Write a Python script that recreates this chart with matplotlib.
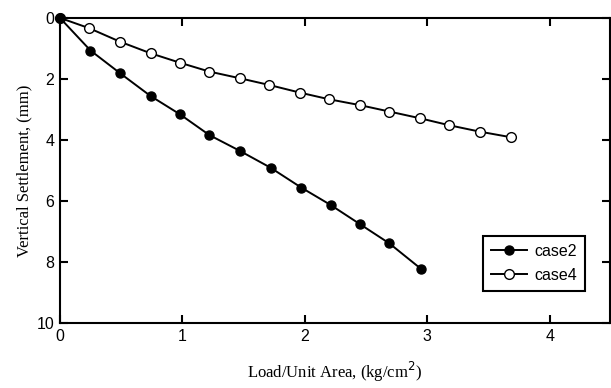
import matplotlib
matplotlib.use("Agg")
import matplotlib.pyplot as plt

# load (kg/cm^2) and settlement (mm)
load_case2 = [0, 0.25, 0.49, 0.74, 0.98, 1.22, 1.47, 1.72, 1.97, 2.21, 2.45, 2.69, 2.95]
sett_case2 = [0, 1.07, 1.81, 2.56, 3.16, 3.84, 4.36, 4.91, 5.56, 6.13, 6.76, 7.39, 8.23]

load_case4 = [0, 0.24, 0.49, 0.74, 0.98, 1.22, 1.47, 1.71, 1.96, 2.20, 2.45, 2.69, 2.94, 3.18, 3.43, 3.68]
sett_case4 = [0, 0.34, 0.78, 1.16, 1.47, 1.76, 1.98, 2.20, 2.45, 2.67, 2.86, 3.07, 3.29, 3.52, 3.73, 3.91]

x_ticks = [0, 1, 2, 3, 4]
y_ticks = [0, 2, 4, 6, 8, 10]

fig = plt.figure(figsize=(6.11, 3.88), dpi=100)
ax = fig.add_axes([0.098, 0.1675, 0.900, 0.7865])

ax.plot(load_case2, sett_case2, color="black", lw=1.4, marker="o", ms=6.5,
        mfc="black", mec="black", label="case2", zorder=4, clip_on=False)
ax.plot(load_case4, sett_case4, color="black", lw=1.4, marker="o", ms=7,
        mfc="white", mec="black", mew=1.0, label="case4", zorder=3, clip_on=False)

ax.set_xlim(0, 4.49)
ax.set_ylim(10, 0)
ax.set_xticks(x_ticks)
ax.set_yticks(y_ticks)
ax.tick_params(direction="in", length=6, width=1.5, top=True, right=True,
               labelsize=11.5, pad=4)
for lbl in ax.get_xticklabels() + ax.get_yticklabels():
    lbl.set_family("Liberation Sans")
for s in ax.spines.values():
    s.set_linewidth(1.5)

ax.set_xlabel("Load/Unit Area, (kg/cm$^{2}$)", family="Liberation Serif", fontsize=12, labelpad=12)
ax.set_ylabel("Vertical Settlement, (mm)", family="Liberation Serif", fontsize=12, labelpad=3)

leg = ax.legend(loc="lower right", bbox_to_anchor=(0.97, 0.08), fancybox=False,
                edgecolor="black", framealpha=1, prop={"family": "Liberation Sans", "size": 11.5},
                handlelength=2.2, borderpad=0.5, labelspacing=0.55, handletextpad=0.5)
leg.get_frame().set_linewidth(1.5)

fig.savefig("out.png", dpi=100)
